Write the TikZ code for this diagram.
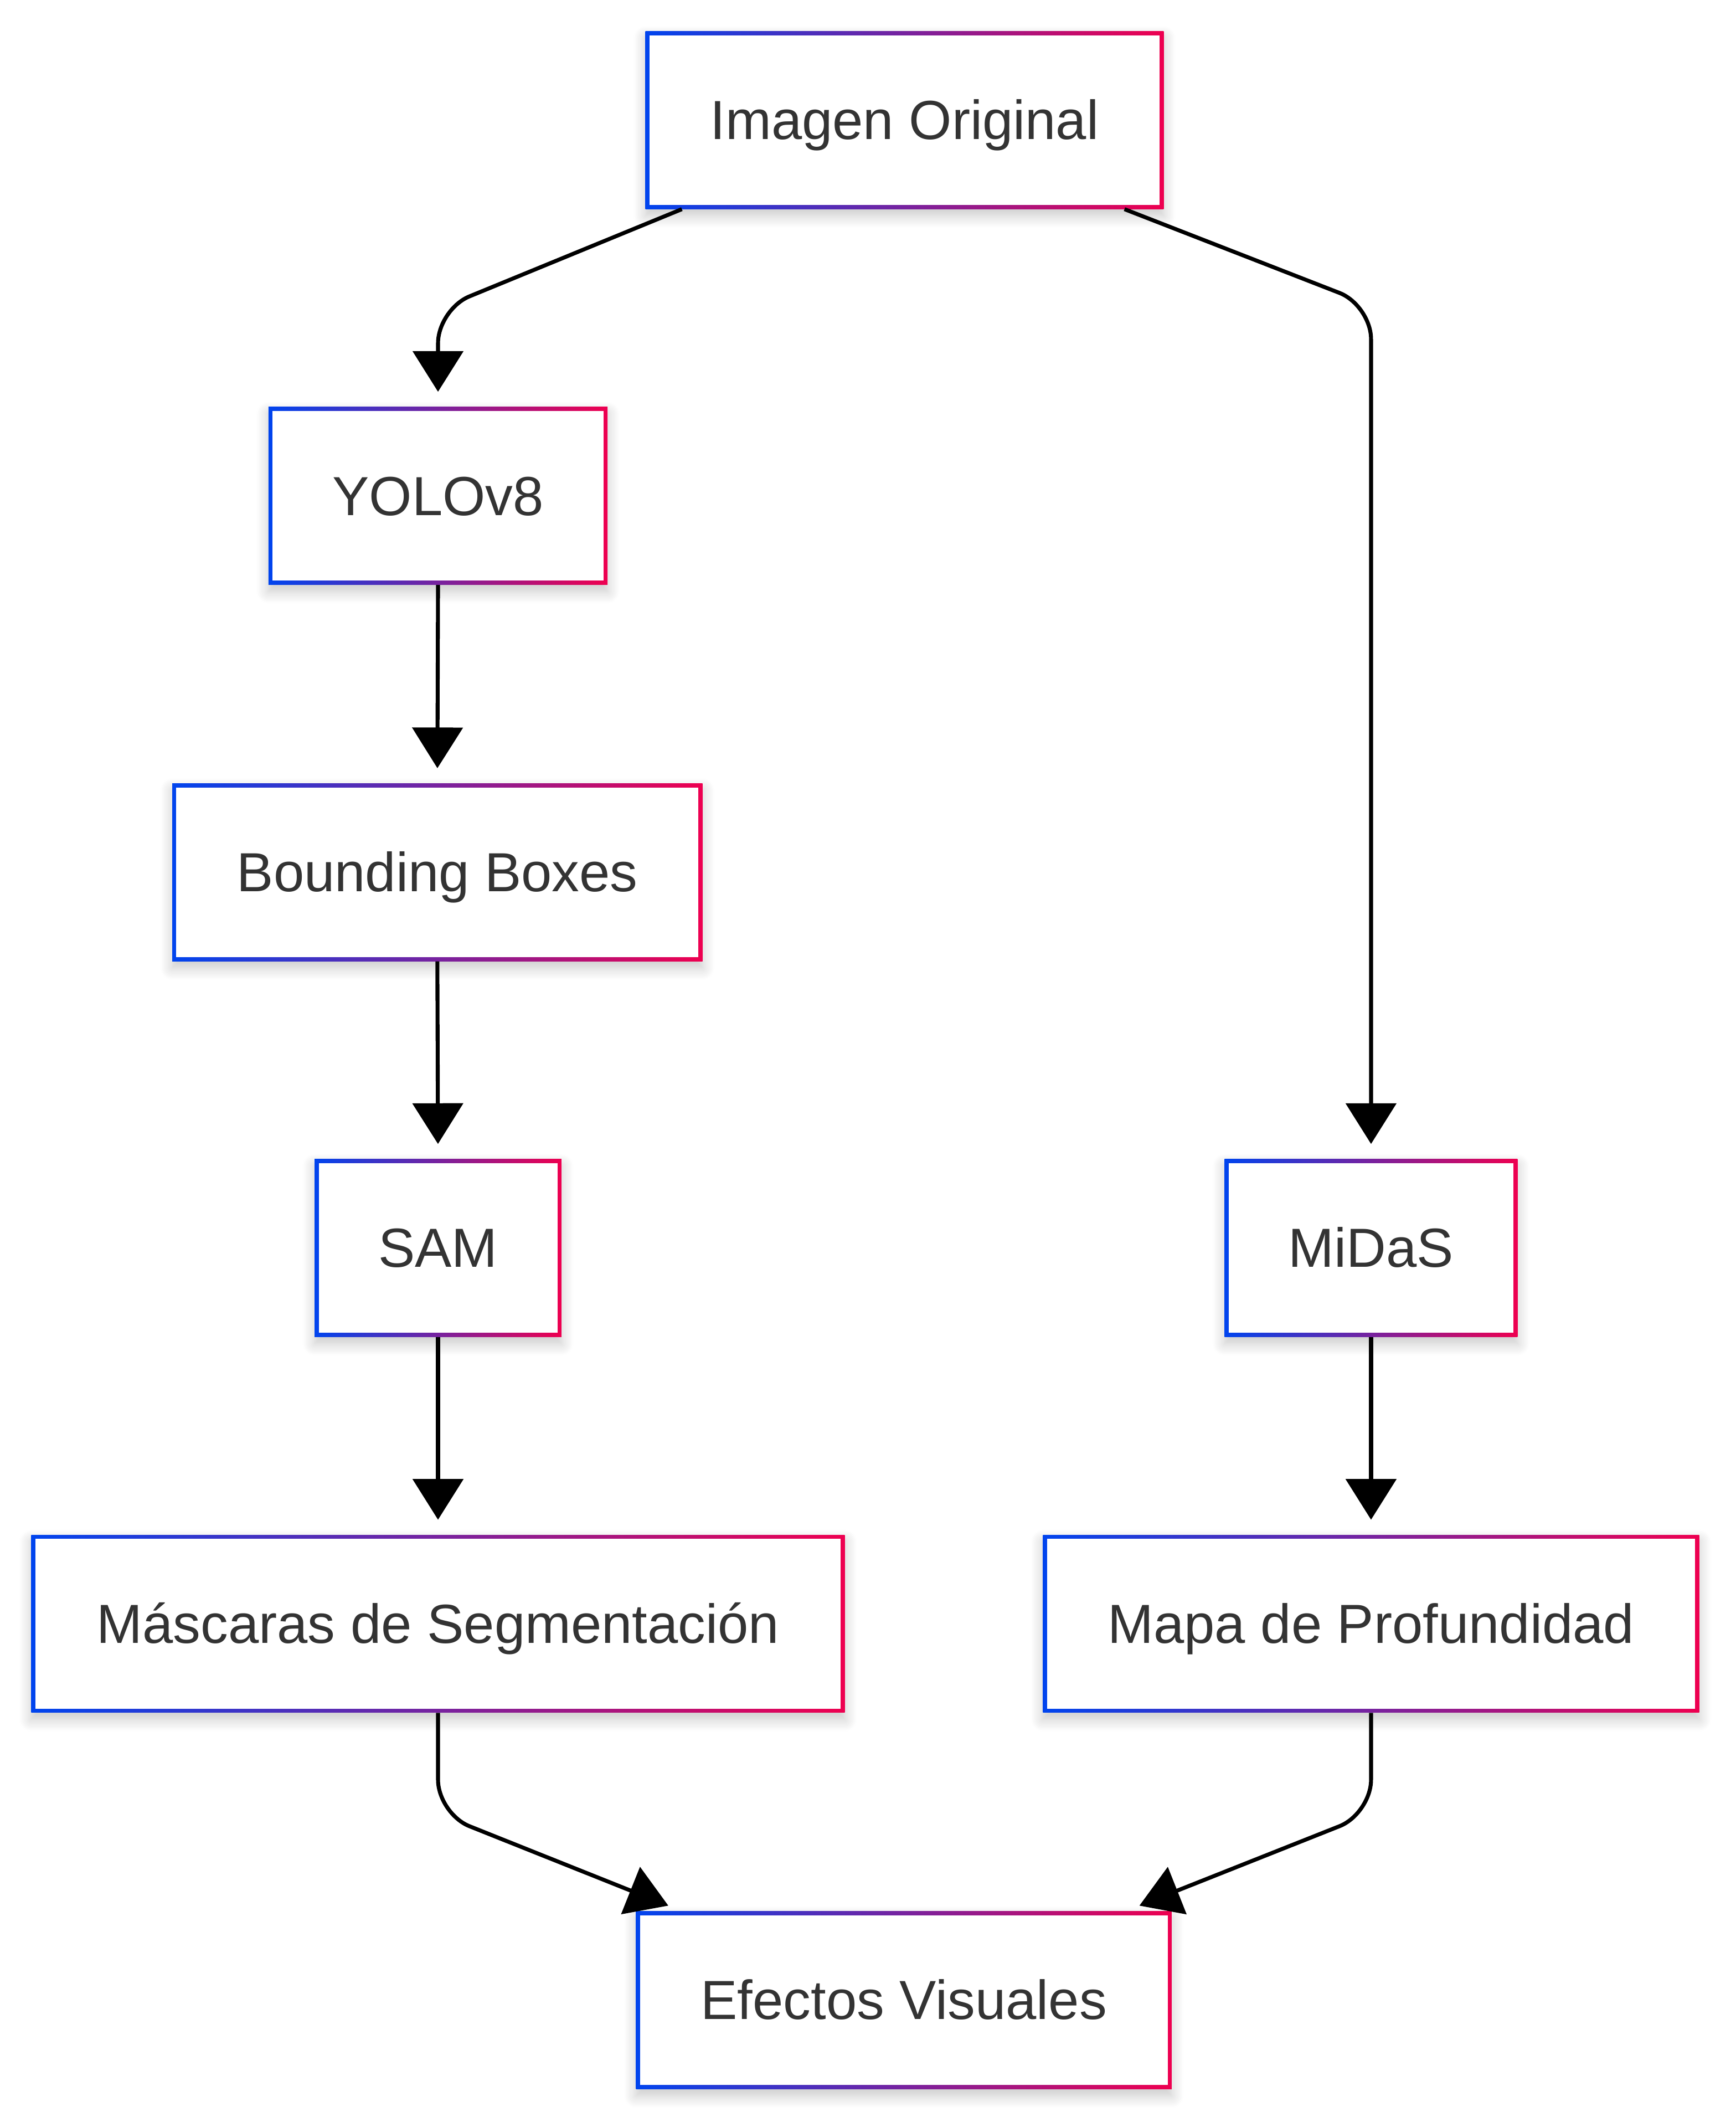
\documentclass[tikz,border=0pt]{standalone}
\usepackage{fontspec}
\setmainfont{Liberation Sans}
\usetikzlibrary{arrows.meta,shadows.blur,calc}
\definecolor{gblue}{HTML}{0044EE}
\definecolor{gred}{HTML}{EE0050}
\definecolor{txt}{HTML}{333333}
\tikzset{
  box/.style={rectangle, minimum height=131pt, inner sep=0pt, fill=white, text=txt,
    font=\fontsize{40.6}{48}\selectfont, text height=28.5pt, text depth=0pt,
    blur shadow={shadow xshift=0pt, shadow yshift=-5pt, shadow blur radius=9pt, shadow opacity=22, shadow blur steps=10},
    path picture={
      \shade[left color=gblue,right color=gred] (path picture bounding box.south west) rectangle (path picture bounding box.north east);
      \fill[white] ([shift={(3pt,3pt)}]path picture bounding box.south west) rectangle ([shift={(-3pt,-3pt)}]path picture bounding box.north east);
    }},
  arr/.style={draw=black, line width=2.9pt, rounded corners=25pt, -{Triangle[length=30pt,width=37pt]}}
}
\begin{document}
\begin{tikzpicture}[x=1pt,y=-1pt]
\useasboundingbox (0,0) rectangle (1280,1568);
\node[box, minimum width=382pt] (A) at (667,88.5) {Imagen Original};
\node[box, minimum width=250pt] (B) at (323,365.5) {YOLOv8};
\node[box, minimum width=391pt] (C) at (322.5,643) {Bounding Boxes};
\node[box, minimum width=182pt] (D) at (323,920) {SAM};
\node[box, minimum width=216pt] (E) at (1011,920) {MiDaS};
\node[box, minimum width=600pt] (F) at (323,1197) {Máscaras de Segmentación};
\node[box, minimum width=484pt] (G) at (1011,1197) {Mapa de Profundidad};
\node[box, minimum width=395pt] (H) at (666.5,1474.5) {Efectos Visuales};
\coordinate (k1) at (323,228);
\coordinate (k2) at (1011,225);
\coordinate (k3) at (323,1337);
\coordinate (k4) at (1011,1337);
\draw[arr, shorten >=11pt] ([xshift=27pt]A.south west) -- (k1) -- (B.north);
\draw[arr, shorten >=11pt] ([xshift=-29pt]A.south east) -- (k2) -- (E.north);
\draw[arr, shorten >=11pt] (B.south) -- (C.north);
\draw[arr, shorten >=11pt] (C.south) -- (D.north);
\draw[arr, shorten >=11pt] (D.south) -- (F.north);
\draw[arr, shorten >=11pt] (E.south) -- (G.north);
\draw[arr] (F.south) -- (k3) -- ([xshift=24pt,yshift=4pt]H.north west);
\draw[arr] (G.south) -- (k4) -- ([xshift=-24pt,yshift=4pt]H.north east);
\end{tikzpicture}
\end{document}
